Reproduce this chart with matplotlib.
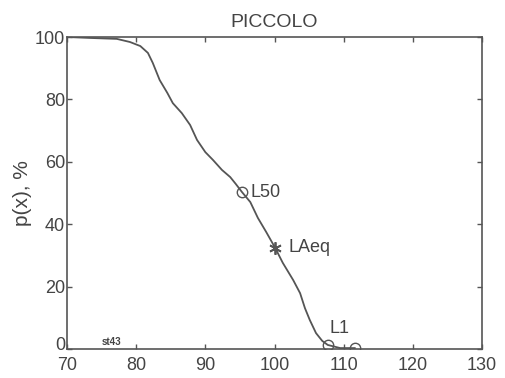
import numpy as np
import matplotlib.pyplot as plt
import matplotlib.transforms as mtransforms

plt.rcParams['font.family'] = ['Liberation Sans', 'DejaVu Sans']

# exceedance curve
level = [70.0, 73.3, 77.2, 79.1, 80.6, 81.7, 82.4, 83.4, 84.5, 85.3, 86.6, 87.8,
         88.8, 90.0, 91.1, 92.4, 93.6, 94.4, 95.3, 96.5, 97.6, 98.8, 100.1, 101.2,
         102.7, 103.7, 104.4, 105.1, 106.0, 106.9, 107.7, 109.5, 111.6]
prob = [100.0, 99.7, 99.4, 98.4, 97.1, 94.9, 91.7, 86.2, 82.1, 78.8, 75.6, 71.8,
        67.0, 63.1, 60.6, 57.4, 55.1, 52.9, 50.3, 47.1, 42.0, 37.5, 32.4, 27.6,
        22.1, 17.9, 13.1, 9.3, 5.1, 2.6, 1.3, 0.3, 0.3]

# marked levels
mark_names = ['L50', 'L1', '']
mark_x = [95.3, 107.7, 111.6]
mark_y = [50.2, 1.3, 0.3]
laeq_x, laeq_y = 100.1, 32.5

gray = '#555555'
txt = '#444444'

fig = plt.figure(figsize=(5.06, 3.78), dpi=100)
ax = fig.add_axes([0.1324, 0.0767, 0.8202, 0.8254])

ax.plot(level, prob, color=gray, lw=1.3)
ax.plot(mark_x, mark_y, 'o', mfc='none', mec=gray, ms=7.5, mew=1.0)
ax.plot(laeq_x, laeq_y, marker=(6, 2, 0), color=gray, ms=9, mew=1.3)

ax.text(mark_x[0] + 1.3, mark_y[0], mark_names[0], fontsize=13, color=txt, va='center')
ax.text(mark_x[1] + 0.2, mark_y[1] + 2.6, mark_names[1], fontsize=13, color=txt, va='bottom')
ax.text(laeq_x + 1.9, laeq_y, 'LAeq', fontsize=13, color=txt, va='center')
ax.text(75.0, 0.8, 'st43', fontsize=7, color=txt, weight='bold', va='bottom')

ax.set_xlim(70, 130)
ax.set_ylim(0, 100)
ax.set_xticks([70, 80, 90, 100, 110, 120, 130])
ax.set_yticks([0, 20, 40, 60, 80, 100])
ax.tick_params(direction='in', length=3.5, width=1.0, color=gray, labelcolor=txt,
               labelsize=13, top=True, right=True, pad=1.5)
ax.tick_params(axis='x', pad=6)
for s in ax.spines.values():
    s.set_color(gray)
    s.set_linewidth(1.2)

# lift the "0" a little so it does not sit on the "70"
zero_lbl = ax.get_yticklabels()[0]
zero_lbl.set_transform(zero_lbl.get_transform() +
                       mtransforms.ScaledTranslation(0, 4 / 72, fig.dpi_scale_trans))

ax.set_title('PICCOLO', fontsize=14, color=txt, pad=7)
ax.set_ylabel('p(x), %', fontsize=15, color=txt, labelpad=2)

fig.savefig('out.png', dpi=100)
